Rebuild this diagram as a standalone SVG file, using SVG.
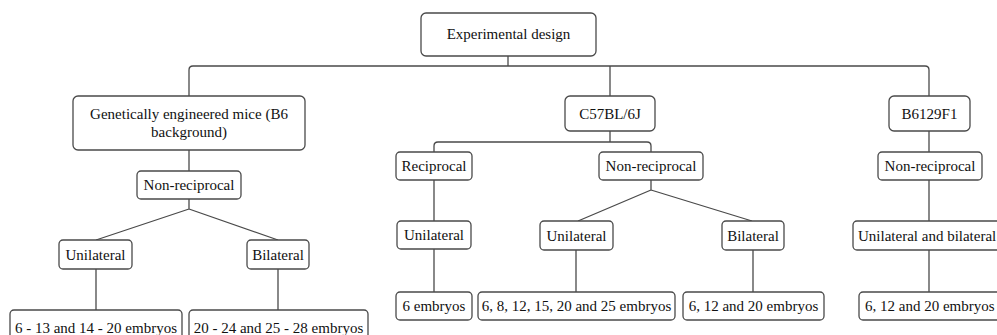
<svg xmlns="http://www.w3.org/2000/svg" width="997" height="335" viewBox="0 0 997 335">
<style>
.n rect{fill:#fff;stroke:#4a4a4a;stroke-width:1.3}
.n text{font-family:"Liberation Serif","DejaVu Serif",serif;font-size:15px;fill:#111;text-anchor:middle}
#conn path{fill:none;stroke:#4a4a4a;stroke-width:1.3}
</style>
<rect width="997" height="335" fill="#fff"/>
<g id="conn">
<path d="M508,56 V66"/>
<path d="M189,96 V70 Q189,66 193,66 H925 Q929,66 929,70 V96"/>
<path d="M610,66 V96"/>
<path d="M189,150 V171"/>
<path d="M189,199 V209 M189,209 L96,240 M189,209 L278,240"/>
<path d="M96,269 V310 M278,269 V310"/>
<path d="M610,131 V142"/>
<path d="M434,152 V146 Q434,142 438,142 H647 Q651,142 651,146 V152"/>
<path d="M434,180 V221 M434,249 V292"/>
<path d="M651,180 V190 M651,190 L578,221 M651,190 L752,221"/>
<path d="M576,250 V292 M753,250 V292"/>
<path d="M929,131 V152 M929,180 V221 M929,250 V292"/>
</g>
<g id="root" class="n"><rect x="421" y="13" width="175" height="43" rx="5"/><text x="508.5" y="39">Experimental design</text></g>
<g id="gem" class="n"><rect x="73" y="96" width="232" height="54" rx="5"/><text x="189" y="119">Genetically engineered mice (B6</text><text x="189" y="137">background)</text></g>
<g id="c57" class="n"><rect x="565" y="96" width="90" height="35" rx="5"/><text x="610" y="118.5">C57BL/6J</text></g>
<g id="b6129" class="n"><rect x="889" y="96" width="81" height="35" rx="5"/><text x="929.5" y="118.5">B6129F1</text></g>
<g id="gem_nr" class="n"><rect x="137" y="171" width="104" height="28" rx="4"/><text x="189" y="190">Non-reciprocal</text></g>
<g id="gem_uni" class="n"><rect x="59" y="240" width="73" height="29" rx="4"/><text x="95.5" y="259.5">Unilateral</text></g>
<g id="gem_bi" class="n"><rect x="247" y="240" width="62" height="29" rx="4"/><text x="278" y="259.5">Bilateral</text></g>
<g id="gem_e1" class="n"><rect x="10" y="310" width="172" height="36" rx="4"/><text x="96" y="333">6 - 13 and 14 - 20 embryos</text></g>
<g id="gem_e2" class="n"><rect x="189" y="310" width="179" height="36" rx="4"/><text x="278.5" y="333">20 - 24 and 25 - 28 embryos</text></g>
<g id="c57_rec" class="n"><rect x="396" y="152" width="76" height="28" rx="4"/><text x="434" y="171">Reciprocal</text></g>
<g id="c57_nr" class="n"><rect x="599" y="152" width="104" height="28" rx="4"/><text x="651" y="171">Non-reciprocal</text></g>
<g id="c57_rec_uni" class="n"><rect x="397" y="221" width="74" height="28" rx="4"/><text x="434" y="240">Unilateral</text></g>
<g id="c57_rec_e" class="n"><rect x="396" y="292" width="76" height="28" rx="4"/><text x="434" y="311">6 embryos</text></g>
<g id="c57_nr_uni" class="n"><rect x="540" y="221" width="73" height="29" rx="4"/><text x="576.5" y="240.5">Unilateral</text></g>
<g id="c57_nr_bi" class="n"><rect x="722" y="221" width="62" height="29" rx="4"/><text x="753" y="240.5">Bilateral</text></g>
<g id="c57_e1" class="n"><rect x="478" y="292" width="197" height="28" rx="4"/><text x="576.5" y="311">6, 8, 12, 15, 20 and 25 embryos</text></g>
<g id="c57_e2" class="n"><rect x="683" y="292" width="141" height="28" rx="4"/><text x="753.5" y="311">6, 12 and 20 embryos</text></g>
<g id="b6_nr" class="n"><rect x="878" y="152" width="104" height="28" rx="4"/><text x="930" y="171">Non-reciprocal</text></g>
<g id="b6_uni" class="n"><rect x="853" y="221" width="170" height="29" rx="4"/><text x="858" y="240.5" style="text-anchor:start">Unilateral and bilateral</text></g>
<g id="b6_e" class="n"><rect x="859" y="292" width="145" height="28" rx="4"/><text x="865" y="311" style="text-anchor:start">6, 12 and 20 embryos</text></g>
</svg>
